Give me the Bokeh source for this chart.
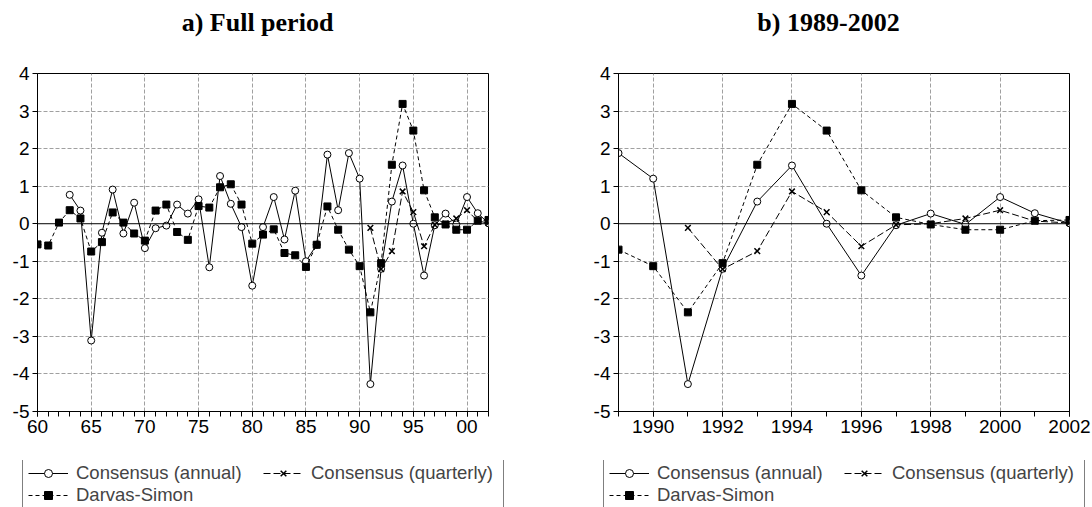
from bokeh.plotting import figure
from bokeh.models import (ColumnDataSource, FixedTicker, Span, Legend, LegendItem, Label)
from bokeh.layouts import column, row
from bokeh.embed import file_html
from bokeh.resources import INLINE

# ---------------- data ----------------
years_ds = list(range(1960, 2003))
darvas_simon = [-0.55, -0.58, 0.03, 0.36, 0.14, -0.74, -0.49, 0.30, 0.03, -0.26,
                -0.45, 0.35, 0.51, -0.22, -0.43, 0.47, 0.43, 0.97, 1.05, 0.51,
                -0.53, -0.29, -0.15, -0.78, -0.84, -1.15, -0.56, 0.46, -0.16, -0.69,
                -1.13, -2.36, -1.05, 1.57, 3.19, 2.48, 0.89, 0.17, -0.02, -0.16,
                -0.16, 0.08, 0.10]

years_ann = list(range(1963, 2003))
consensus_annual = [0.77, 0.35, -3.11, -0.24, 0.91, -0.26, 0.56, -0.65, -0.12, -0.05,
                    0.51, 0.27, 0.65, -1.16, 1.27, 0.53, -0.09, -1.65, -0.09, 0.71,
                    -0.42, 0.88, -1.00, -0.56, 1.84, 0.36, 1.88, 1.20, -4.27, -1.20,
                    0.59, 1.55, 0.00, -1.38, -0.04, 0.27, -0.02, 0.71, 0.28, 0.01]

years_q = list(range(1991, 2003))
consensus_quarterly = [-0.11, -1.21, -0.73, 0.86, 0.31, -0.60, -0.03, 0.00, 0.14, 0.36, 0.07, 0.02]

series_names = ["Consensus (annual)", "Consensus (quarterly)", "Darvas-Simon"]
titles = ["a) Full period", "b) 1989-2002"]
y_ticks = [-5, -4, -3, -2, -1, 0, 1, 2, 3, 4]
full_major = [1960, 1965, 1970, 1975, 1980, 1985, 1990, 1995, 2000]
full_labels = ["60", "65", "70", "75", "80", "85", "90", "95", "00"]
sub_major = [1990, 1992, 1994, 1996, 1998, 2000, 2002]
sub_labels = ["1990", "1992", "1994", "1996", "1998", "2000", "2002"]

FONT = "Liberation Sans"
PANEL_W = 546
TITLE_H = 46
LEG_H = 47

STYLE_ANN = dict(line=dict(line_color="black", line_width=1),
                 mark=dict(marker="circle", size=7, fill_color="white", line_color="black", line_width=1))
STYLE_QUA = dict(line=dict(line_color="black", line_width=1, line_dash="7 3"),
                 mark=dict(marker="x", size=8, line_color="black", line_width=1.5))
STYLE_DSM = dict(line=dict(line_color="black", line_width=1, line_dash="4 3"),
                 mark=dict(marker="square", size=7, fill_color="black", line_color="black"))
SERIES = [(years_ann, consensus_annual, STYLE_ANN),
          (years_q, consensus_quarterly, STYLE_QUA),
          (years_ds, darvas_simon, STYLE_DSM)]


def subset(xs, ys, start):
    pairs = [(x, y) for x, y in zip(xs, ys) if x >= start]
    return dict(x=[p[0] for p in pairs], y=[p[1] for p in pairs])


def blank_fig(h):
    f = figure(x_range=(0, PANEL_W), y_range=(0, h), frame_width=PANEL_W, frame_height=h,
               min_border=0, x_axis_type=None, y_axis_type=None,
               output_backend="svg", toolbar_location=None,
               background_fill_color="white", border_fill_color="white")
    f.outline_line_color = None
    f.grid.visible = False
    return f


def make_title(text, cx):
    f = blank_fig(TITLE_H)
    f.add_layout(Label(x=cx, y=TITLE_H - 22, text=text, text_align="center",
                       text_baseline="middle", text_font="Liberation Serif",
                       text_font_style="bold", text_font_size="26px", text_color="black"))
    return f


def make_panel(start, end, major, labels, border_left, border_right):
    p = figure(x_range=(start, end), y_range=(-5, 4),
               frame_width=451, frame_height=338,
               min_border_left=border_left, min_border_right=border_right,
               min_border_top=73 - TITLE_H, min_border_bottom=49,
               output_backend="svg", toolbar_location=None,
               background_fill_color="white", border_fill_color="white")
    p.outline_line_color = "black"
    p.outline_line_width = 1

    p.xaxis.ticker = FixedTicker(ticks=major, minor_ticks=list(range(start, end + 1)))
    p.xaxis.major_label_overrides = {m: l for m, l in zip(major, labels)}
    p.yaxis.ticker = FixedTicker(ticks=y_ticks)
    p.yaxis.major_label_overrides = {v: str(v) for v in y_ticks}
    for ax in (p.xaxis, p.yaxis):
        ax.axis_line_color = "black"
        ax.major_tick_line_color = "black"
        ax.minor_tick_line_color = "black"
        ax.major_tick_in = 0
        ax.major_tick_out = 5
        ax.minor_tick_in = 0
        ax.minor_tick_out = 5
        ax.major_label_text_font = FONT
        ax.major_label_text_font_size = "19px"
        ax.major_label_text_color = "black"
    p.yaxis.minor_tick_line_color = None
    p.xaxis.major_label_standoff = 3
    p.yaxis.major_label_standoff = 3

    for g in (p.xgrid, p.ygrid):
        g.grid_line_color = "#a0a0a0"
        g.grid_line_dash = "4 2"
        g.grid_line_width = 1
    p.ygrid.ticker = FixedTicker(ticks=[-4, -3, -2, -1, 1, 2, 3])
    p.xgrid.ticker = FixedTicker(ticks=[m for m in major if start < m < end])

    p.add_layout(Span(location=0, dimension="width", line_color="black", line_width=1))

    for xs, ys, st in SERIES:
        src = ColumnDataSource(subset(xs, ys, start))
        p.line("x", "y", source=src, **st["line"])
        p.scatter("x", "y", source=src, **st["mark"])
    return p


def make_legend_fig(x_left):
    # the series are plotted here too, but fall outside this strip's ranges;
    # only their legend entries show
    lf = blank_fig(LEG_H)
    items = []
    for name, (xs, ys, st) in zip(series_names, SERIES):
        src = ColumnDataSource(dict(x=xs, y=ys))
        r1 = lf.line("x", "y", source=src, **st["line"])
        r2 = lf.scatter("x", "y", source=src, **st["mark"])
        items.append(LegendItem(label=name, renderers=[r1, r2]))
    lg = Legend(items=items, orientation="horizontal", ncols=2,
                location=(x_left, LEG_H - 52),
                label_text_font=FONT, label_text_font_size="18.5px",
                label_height=20, glyph_height=20, glyph_width=40,
                label_width=187, label_standoff=8, spacing=0, padding=5, margin=0,
                border_line_color="black", border_line_width=1,
                background_fill_color="white", background_fill_alpha=1.0)
    lf.add_layout(lg, "center")
    return lf


t1 = make_title(titles[0], 257)
t2 = make_title(titles[1], 282)
p1 = make_panel(1960, 2002, full_major, full_labels, 37, 58)
p2 = make_panel(1989, 2002, sub_major, sub_labels, 72, 23)
lg1 = make_legend_fig(22)
lg2 = make_legend_fig(57)

layout = column(row(t1, t2, spacing=0), row(p1, p2, spacing=0),
                row(lg1, lg2, spacing=0), spacing=0)
open("out.html", "w").write(file_html(layout, INLINE))
